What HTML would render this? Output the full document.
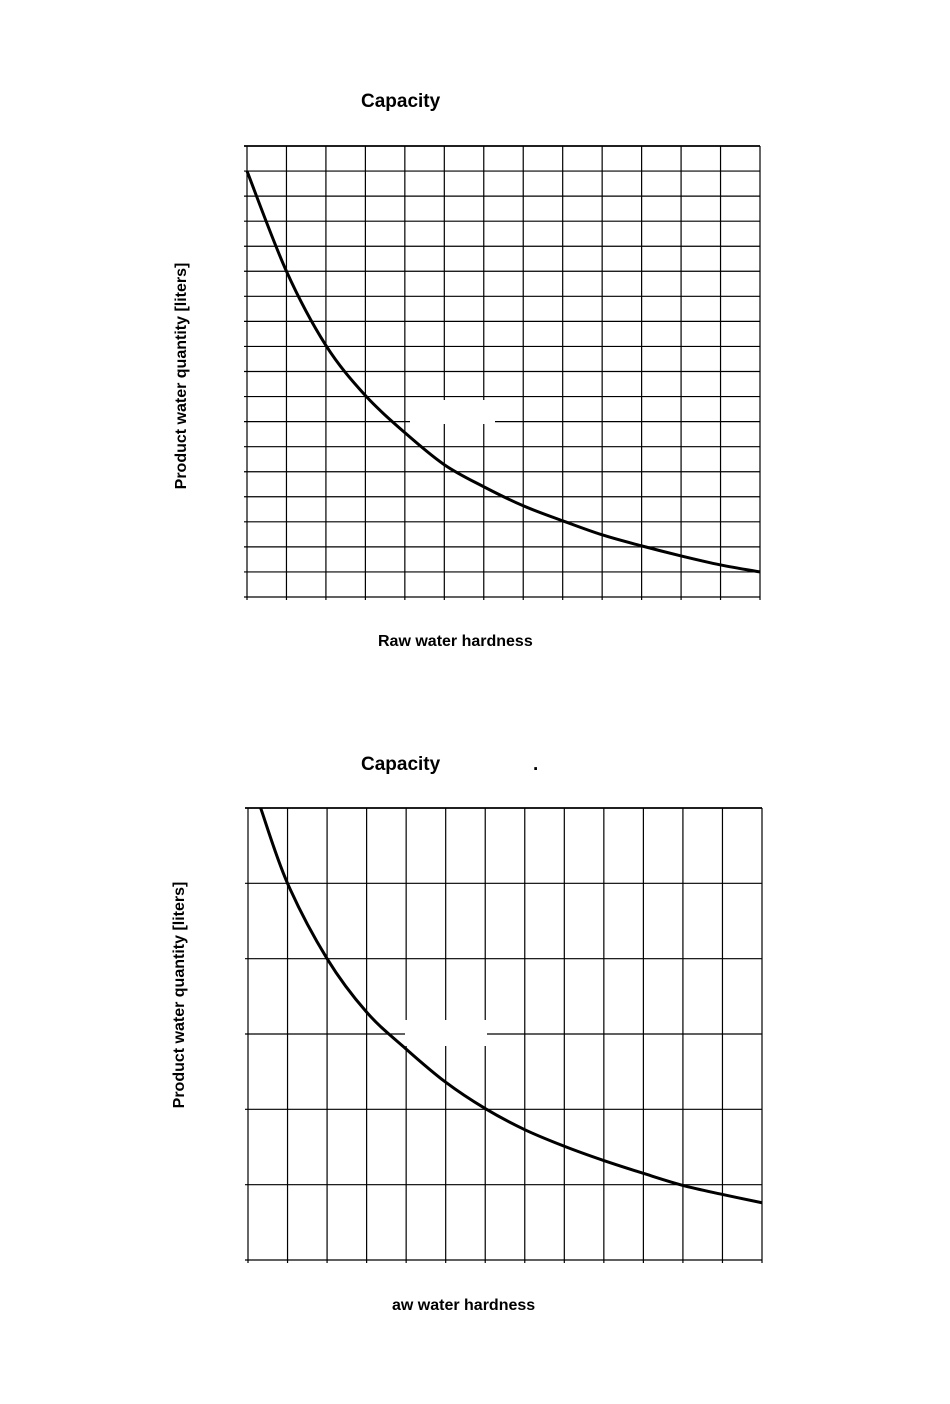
<!DOCTYPE html>
<html><head><meta charset="utf-8"><style>
body{margin:0;background:#fff;width:950px;height:1399px;overflow:hidden;font-family:"Liberation Sans",sans-serif}
svg text{font-family:"Liberation Sans",sans-serif;font-weight:bold;fill:#000}
</style></head><body>
<svg id="s" width="950" height="1399" xmlns="http://www.w3.org/2000/svg">
<text x="361" y="107" font-size="19">Capacity</text>
<text x="378" y="646" font-size="16">Raw water hardness</text>
<text transform="translate(186,376) rotate(-90)" text-anchor="middle" font-size="16">Product water quantity [liters]</text>
<text x="361" y="770" font-size="19">Capacity</text>
<text x="533" y="770" font-size="19">.</text>
<text x="392" y="1310" font-size="16">aw water hardness</text>
<text transform="translate(184,995) rotate(-90)" text-anchor="middle" font-size="16">Product water quantity [liters]</text>
</svg>
<script>
const xCats1 = [0,1,2,3,4,5,6,7,8,9,10,11,12,13];
const capacity1 = [17,13,10.04,8.04,6.56,5.28,4.4,3.64,3.04,2.48,2.04,1.64,1.28,1.0];
const xCats2 = [0.32,1,2,3,4,5,6,7,8,9,10,11,12,13];
const capacity2 = [6,5,4,3.29,2.8,2.36,2.01,1.73,1.51,1.32,1.15,0.99,0.87,0.76];
const NS='http://www.w3.org/2000/svg';
const svg=document.getElementById('s');
function mk(tag,attrs){const e=document.createElementNS(NS,tag);for(const k in attrs)e.setAttribute(k,attrs[k]);svg.appendChild(e);return e;}
function chart(id,x0,x1,yTop,yBot,nx,ny,xs,ys,mask){
  const sx=v=>x0+(x1-x0)*v/nx, sy=v=>yBot-(yBot-yTop)*v/ny;
  for(let i=0;i<=nx;i++){const l=mk('line',{x1:sx(i),x2:sx(i),y1:yTop,y2:yBot+3,stroke:'#000','stroke-width':1.2});
    
    }
  for(let j=0;j<=ny;j++){const l=mk('line',{x1:x0-3,x2:x1,y1:sy(j),y2:sy(j),stroke:'#000','stroke-width':j==ny?1.8:1.2});
    
    }
  if(mask){const r=mk('rect',mask);r.setAttribute('fill','#fff');
    
    }
  const P=xs.map((x,i)=>[sx(x),sy(ys[i])]);
  let d='M'+P[0][0]+','+P[0][1];
  for(let i=0;i<P.length-1;i++){const p0=P[Math.max(0,i-1)],p1=P[i],p2=P[i+1],p3=P[Math.min(P.length-1,i+2)];
    d+=' C'+(p1[0]+(p2[0]-p0[0])/6)+','+(p1[1]+(p2[1]-p0[1])/6)+' '+(p2[0]-(p3[0]-p1[0])/6)+','+(p2[1]-(p3[1]-p1[1])/6)+' '+p2[0]+','+p2[1];}
  const c=mk('path',{d:d,fill:'none',stroke:'#000','stroke-width':3});
  
  
}
chart('chart1',247,760,146,597,13,18,xCats1,capacity1,{x:410,y:400,width:85,height:24});
chart('chart2',248,762,808,1260,13,6,xCats2,capacity2,{x:405,y:1020,width:82,height:26});
</script>
</body></html>
